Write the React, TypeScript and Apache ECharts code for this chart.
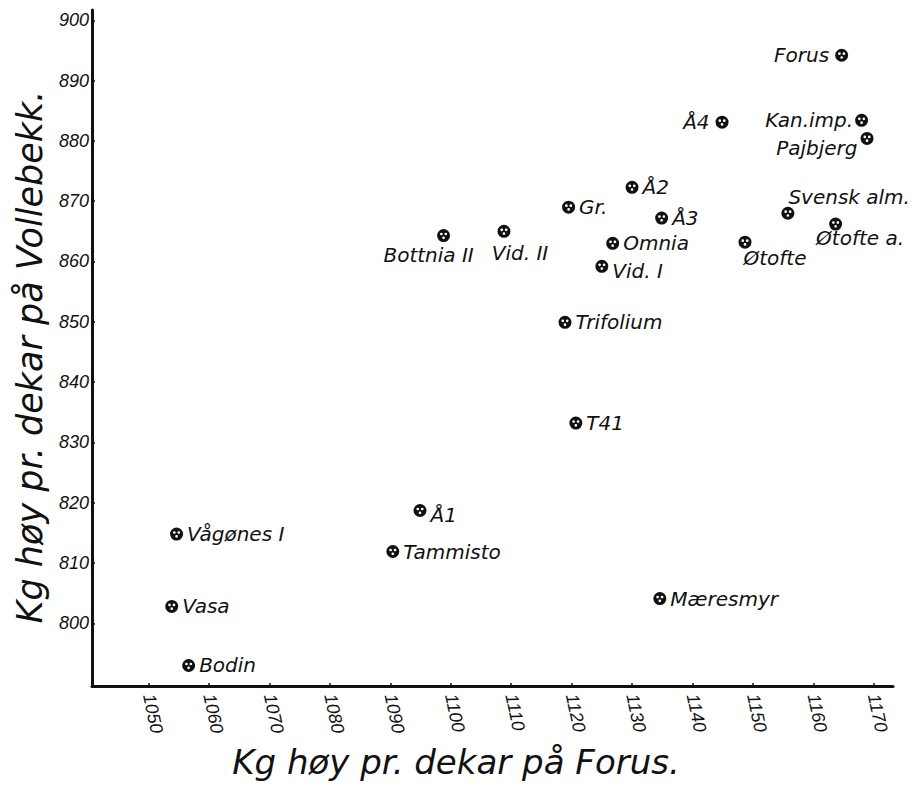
import React, { useEffect, useRef } from "react";
import * as echarts from "echarts";

// Variety names
const names = [
  "Forus", "Å4", "Kan.imp.", "Pajbjerg", "Å2", "Gr.", "Svensk alm.", "Å3",
  "Øtofte a.", "Bottnia II", "Vid. II", "Omnia", "Øtofte", "Vid. I",
  "Trifolium", "T41", "Å1", "Vågønes I", "Tammisto", "Vasa", "Mæresmyr", "Bodin",
];
// Kg høy pr. dekar på Forus
const forusValues = [
  1164.7, 1144.9, 1168.0, 1168.9, 1130.0, 1119.5, 1155.8, 1134.9,
  1163.7, 1098.8, 1108.8, 1126.8, 1148.7, 1125.0,
  1118.9, 1120.7, 1094.9, 1054.6, 1090.4, 1053.8, 1134.6, 1056.6,
];
// Kg høy pr. dekar på Vollebekk
const vollebekkValues = [
  894.2, 883.1, 883.4, 880.4, 872.3, 869.0, 868.0, 867.2,
  866.2, 864.3, 865.0, 863.0, 863.2, 859.2,
  849.9, 833.2, 818.7, 814.8, 811.9, 802.8, 804.1, 793.0,
];
const xTicks = [1050, 1060, 1070, 1080, 1090, 1100, 1110, 1120, 1130, 1140, 1150, 1160, 1170];
const yTicks = [800, 810, 820, 830, 840, 850, 860, 870, 880, 890, 900];
const xTitle = "Kg høy pr. dekar på Forus.";
const yTitle = "Kg høy pr. dekar på Vollebekk.";

const labelLayout: Record<string, any> = {
  "Forus": { position: "left", distance: 6 },
  "Å4": { position: "left", distance: 6 },
  "Kan.imp.": { position: "left", distance: 2 },
  "Pajbjerg": { position: "left", distance: 3, offset: [0, 10] },
  "Svensk alm.": { position: "right", offset: [-10, -16] },
  "Øtofte a.": { position: "right", offset: [-30, 14] },
  "Øtofte": { position: "right", offset: [-12, 16] },
  "Bottnia II": { position: "bottom", distance: 3, offset: [-15, 0] },
  "Vid. II": { position: "bottom", distance: 3, offset: [16, 2] },
  "Vid. I": { position: "right", offset: [0, 5] },
  "Å1": { position: "right", offset: [0, 4] },
};

const markerPath =
  "path://M0,12A12,12 0 1,1 24,12A12,12 0 1,1 0,12Z" +
  "M5.4,9.2A2.5,2.5 0 1,0 10.4,9.2A2.5,2.5 0 1,0 5.4,9.2Z" +
  "M13.6,9.2A2.5,2.5 0 1,0 18.6,9.2A2.5,2.5 0 1,0 13.6,9.2Z" +
  "M9.5,16.2A2.5,2.5 0 1,0 14.5,16.2A2.5,2.5 0 1,0 9.5,16.2Z";

export default function App() {
  const ref = useRef<HTMLDivElement>(null);
  useEffect(() => {
    if (!ref.current) return;
    const chart = echarts.init(ref.current, undefined, { renderer: "svg" });
    const data = names.map((n, i) => ({
      name: n,
      value: [forusValues[i], vollebekkValues[i]],
      label: labelLayout[n] || {},
    }));
    chart.setOption({
      animation: false,
      backgroundColor: "#ffffff",
      grid: { left: 92, right: 28, top: 10, bottom: 104, outerBoundsMode: "none" },
      xAxis: {
        type: "value",
        min: 1040.6,
        max: 1173.2,
        splitLine: { show: false },
        axisLine: { show: true, onZero: false, lineStyle: { color: "#111", width: 3 } },
        axisTick: { show: true, inside: true, length: 3, customValues: xTicks, lineStyle: { color: "#111", width: 1.5 } },
        axisLabel: {
          customValues: xTicks,
          formatter: (v: number) => String(v),
          rotate: -78,
          margin: 8,
          color: "#111",
          fontFamily: "Liberation Sans",
          fontStyle: "italic",
          fontSize: 18,
        },
      },
      yAxis: {
        type: "value",
        min: 789.6,
        max: 901.7,
        splitLine: { show: false },
        axisLine: { show: true, onZero: false, lineStyle: { color: "#111", width: 3 } },
        axisTick: { show: true, inside: true, length: 3, customValues: yTicks, lineStyle: { color: "#111", width: 1.5 } },
        axisLabel: {
          customValues: yTicks,
          formatter: (v: number) => String(v),
          margin: 3,
          color: "#111",
          fontFamily: "Liberation Sans",
          fontStyle: "italic",
          fontSize: 18,
        },
      },
      series: [
        {
          type: "scatter",
          symbol: markerPath,
          symbolSize: 13,
          itemStyle: { color: "#111", opacity: 1 },
          label: {
            show: true,
            position: "right",
            distance: 4,
            formatter: "{b}",
            color: "#111",
            fontFamily: "DejaVu Sans",
            fontStyle: "italic",
            fontSize: 20,
          },
          data,
        },
      ],
      graphic: [
        {
          type: "text",
          x: 30,
          y: 357,
          rotation: Math.PI / 2,
          style: {
            text: yTitle,
            fill: "#111",
            font: "italic 35px 'DejaVu Sans'",
            textAlign: "center",
            textVerticalAlign: "middle",
          },
        },
        {
          type: "text",
          x: 456,
          y: 762,
          style: {
            text: xTitle,
            fill: "#111",
            font: "italic 34px 'DejaVu Sans'",
            textAlign: "center",
            textVerticalAlign: "middle",
          },
        },
      ],
    });
    return () => chart.dispose();
  }, []);
  return (
    <div
      ref={ref}
      style={{ position: "absolute", left: 0, top: 0, width: 921, height: 790, background: "#fff" }}
    />
  );
}
